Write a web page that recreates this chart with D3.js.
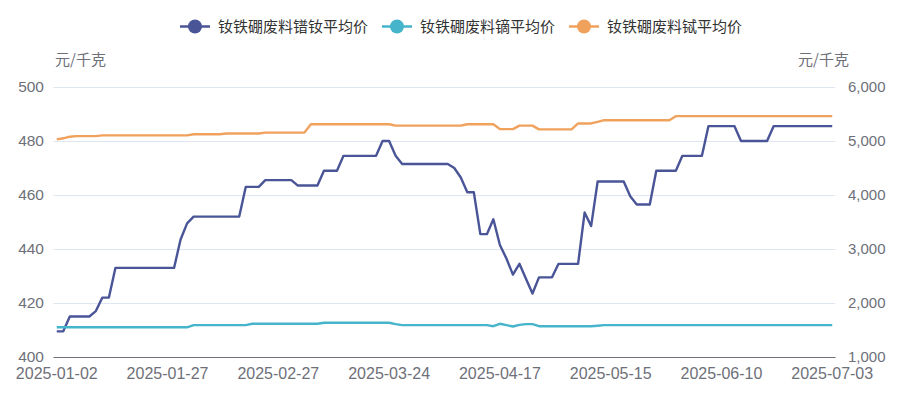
<!DOCTYPE html>
<html>
<head>
<meta charset="utf-8">
<script src="https://cdn.jsdelivr.net/npm/d3@7/dist/d3.min.js"></script>
<style>
  html, body { margin: 0; padding: 0; background: #ffffff; }
  svg { display: block; }
  text { font-family: "Noto Sans CJK SC", "Noto Sans", sans-serif; }
  .num text { font-family: "Liberation Sans", Arial, sans-serif; }
</style>
</head>
<body>
<svg id="chart" width="922" height="396"></svg>
<script>
// ---- data ----
const dates = [
  "2025-01-02","2025-01-03","2025-01-06","2025-01-07","2025-01-08","2025-01-09","2025-01-10","2025-01-13","2025-01-14","2025-01-15",
  "2025-01-16","2025-01-17","2025-01-20","2025-01-21","2025-01-22","2025-01-23","2025-01-24","2025-01-27","2025-02-05","2025-02-06",
  "2025-02-07","2025-02-10","2025-02-11","2025-02-12","2025-02-13","2025-02-14","2025-02-17","2025-02-18","2025-02-19","2025-02-20",
  "2025-02-21","2025-02-24","2025-02-25","2025-02-26","2025-02-27","2025-02-28","2025-03-03","2025-03-04","2025-03-05","2025-03-06",
  "2025-03-07","2025-03-10","2025-03-11","2025-03-12","2025-03-13","2025-03-14","2025-03-17","2025-03-18","2025-03-19","2025-03-20",
  "2025-03-21","2025-03-24","2025-03-25","2025-03-26","2025-03-27","2025-03-28","2025-03-31","2025-04-01","2025-04-02","2025-04-03",
  "2025-04-07","2025-04-08","2025-04-09","2025-04-10","2025-04-11","2025-04-14","2025-04-15","2025-04-16","2025-04-17","2025-04-18",
  "2025-04-21","2025-04-22","2025-04-23","2025-04-24","2025-04-25","2025-04-28","2025-04-29","2025-04-30","2025-05-06","2025-05-07",
  "2025-05-08","2025-05-09","2025-05-12","2025-05-13","2025-05-14","2025-05-15","2025-05-16","2025-05-19","2025-05-20","2025-05-21",
  "2025-05-22","2025-05-23","2025-05-26","2025-05-27","2025-05-28","2025-05-29","2025-05-30","2025-06-03","2025-06-04","2025-06-05",
  "2025-06-06","2025-06-09","2025-06-10","2025-06-11","2025-06-12","2025-06-13","2025-06-16","2025-06-17","2025-06-18","2025-06-19",
  "2025-06-20","2025-06-23","2025-06-24","2025-06-25","2025-06-26","2025-06-27","2025-06-30","2025-07-01","2025-07-02","2025-07-03"
];
const xTickLabels = ["2025-01-02","2025-01-27","2025-02-27","2025-03-24","2025-04-17","2025-05-15","2025-06-10","2025-07-03"];

// left axis: 钕铁硼废料镨钕平均价
const prndValues = [
  409.5,409.5,415,415,415,415,417,422,422,433,
  433,433,433,433,433,433,433,433,433,443.5,
  449.5,452,452,452,452,452,452,452,452,463,
  463,463,465.5,465.5,465.5,465.5,465.5,463.5,463.5,463.5,
  463.5,469,469,469,474.5,474.5,474.5,474.5,474.5,474.5,
  480,480,474.5,471.5,471.5,471.5,471.5,471.5,471.5,471.5,
  471.5,470,466.5,461,461,445.5,445.5,451,441.5,436.5,
  430.5,434.5,429,423.5,429.5,429.5,429.5,434.5,434.5,434.5,
  434.5,453.5,448.5,465,465,465,465,465,459.5,456.5,
  456.5,456.5,469,469,469,469,474.5,474.5,474.5,474.5,
  485.5,485.5,485.5,485.5,485.5,480,480,480,480,480,
  485.5,485.5,485.5,485.5,485.5,485.5,485.5,485.5,485.5,485.5
];
// right axis: 钕铁硼废料镝平均价
const dyValues = [
  1550,1550,1550,1550,1550,1550,1550,1550,1550,1550,
  1550,1550,1550,1550,1550,1550,1550,1550,1550,1550,
  1550,1590,1590,1590,1590,1590,1590,1590,1590,1590,
  1615,1615,1615,1615,1615,1615,1615,1615,1615,1615,
  1615,1635,1635,1635,1635,1635,1635,1635,1635,1635,
  1635,1635,1610,1590,1590,1590,1590,1590,1590,1590,
  1590,1590,1590,1590,1590,1590,1590,1570,1615,1590,
  1565,1595,1608,1608,1570,1570,1570,1570,1570,1570,
  1570,1570,1570,1580,1590,1590,1590,1590,1590,1590,
  1590,1590,1590,1590,1590,1590,1590,1590,1590,1590,
  1590,1590,1590,1590,1590,1590,1590,1590,1590,1590,
  1590,1590,1590,1590,1590,1590,1590,1590,1590,1590
];
// right axis: 钕铁硼废料铽平均价
const tbValues = [
  5030,5050,5080,5090,5090,5090,5090,5105,5105,5105,
  5105,5105,5105,5105,5105,5105,5105,5105,5105,5105,
  5105,5125,5125,5125,5125,5125,5140,5140,5140,5140,
  5140,5140,5155,5155,5155,5155,5155,5155,5155,5310,
  5310,5310,5310,5310,5310,5310,5310,5310,5310,5310,
  5310,5310,5285,5285,5285,5285,5285,5285,5285,5285,
  5285,5285,5285,5310,5310,5310,5310,5310,5220,5220,
  5220,5285,5285,5285,5215,5215,5215,5215,5215,5215,
  5325,5325,5325,5355,5385,5385,5385,5385,5385,5385,
  5385,5385,5385,5385,5385,5460,5460,5460,5460,5460,
  5460,5460,5460,5460,5460,5460,5460,5460,5460,5460,
  5460,5460,5460,5460,5460,5460,5460,5460,5460,5460
];

const seriesNames = ["钕铁硼废料镨钕平均价","钕铁硼废料镝平均价","钕铁硼废料铽平均价"];
const seriesColors = ["#4a5598","#46b4cb","#f0a15c"];
const leftTicks = [400,420,440,460,480,500];
const rightTicks = [1000,2000,3000,4000,5000,6000];
const unitLabel = "元/千克";

// ---- layout ----
const svg = d3.select("#chart");
const W = 922, H = 396;
const plot = {left: 53.5, right: 835.5, top: 87, bottom: 357};
const axisColor = "#6e7079";
const gridColor = "#e0e6f1";
const fs = 15;

const x = d3.scaleBand().domain(dates).range([plot.left, plot.right]);
const xc = d => x(d) + x.bandwidth() / 2;
const yL = d3.scaleLinear().domain([400, 500]).range([plot.bottom, plot.top]);
const yR = d3.scaleLinear().domain([1000, 6000]).range([plot.bottom, plot.top]);

// grid lines
const gGrid = svg.append("g").call(
  d3.axisLeft(yL).tickValues(leftTicks).tickSize(-(plot.right - plot.left)).tickFormat("")
).attr("transform", `translate(${plot.left},0)`);
gGrid.select(".domain").remove();
gGrid.selectAll(".tick line").attr("stroke", gridColor).attr("stroke-width", 1)
  .filter(d => d === 400).remove();

// left y labels
const gL = svg.append("g").attr("class", "num").attr("transform", `translate(${plot.left},0)`)
  .call(d3.axisLeft(yL).tickValues(leftTicks).tickSize(0).tickPadding(9.5).tickFormat(d3.format("d")));
gL.select(".domain").remove();
gL.selectAll("text").attr("fill", axisColor).style("font-size", "15.5px");

// right y labels
const gR = svg.append("g").attr("class", "num").attr("transform", `translate(${plot.right},0)`)
  .call(d3.axisRight(yR).tickValues(rightTicks).tickSize(0).tickPadding(12.5).tickFormat(d3.format(",")));
gR.select(".domain").remove();
gR.selectAll("text").attr("fill", axisColor).style("font-size", "15px");

// x axis
const gX = svg.append("g").attr("class", "num").attr("transform", `translate(0,${plot.bottom})`)
  .call(d3.axisBottom(x).tickValues(xTickLabels).tickSize(0).tickPadding(11));
gX.select(".domain").attr("stroke", axisColor).attr("stroke-width", 1.2)
  .attr("d", `M${plot.left},0.5H${plot.right}`);
gX.selectAll("text").attr("fill", axisColor).style("font-size", "16px");

// axis unit names
svg.append("text").attr("x", 55).attr("y", 60).attr("dy", "0.35em")
  .attr("fill", axisColor).style("font-size", fs + "px").text(unitLabel);
svg.append("text").attr("x", 849).attr("y", 60).attr("dy", "0.35em").attr("text-anchor", "end")
  .attr("fill", axisColor).style("font-size", fs + "px").text(unitLabel);

// lines
const lineL = d3.line().x((d, i) => xc(dates[i])).y(d => yL(d));
const lineR = d3.line().x((d, i) => xc(dates[i])).y(d => yR(d));
const allSeries = [
  {values: prndValues, gen: lineL, color: seriesColors[0]},
  {values: dyValues, gen: lineR, color: seriesColors[1]},
  {values: tbValues, gen: lineR, color: seriesColors[2]}
];
svg.append("g").selectAll("path").data(allSeries).join("path")
  .attr("d", s => s.gen(s.values))
  .attr("fill", "none")
  .attr("stroke", s => s.color)
  .attr("stroke-width", 2.4)
  .attr("stroke-linejoin", "round");

// legend
const legend = svg.append("g");
const itemW = 30, gapText = 8, itemGap = 14, legY = 26.5;
const items = legend.selectAll("g").data(seriesNames).join("g");
items.append("line").attr("x1", 0).attr("x2", itemW).attr("y1", legY).attr("y2", legY)
  .attr("stroke", (d, i) => seriesColors[i]).attr("stroke-width", 2.5);
items.append("circle").attr("cx", itemW / 2).attr("cy", legY).attr("r", 7)
  .attr("fill", (d, i) => seriesColors[i]);
items.append("text").attr("x", itemW + gapText).attr("y", legY).attr("dy", "0.35em")
  .attr("fill", "#333").style("font-size", fs + "px").text(d => d);
let widths = [];
items.each(function() { widths.push(this.getBBox().width); });
const total = d3.sum(widths) + itemGap * (widths.length - 1);
let cur = (W - total) / 2;
items.attr("transform", (d, i) => { const t = `translate(${cur},0)`; cur += widths[i] + itemGap; return t; });
</script>
</body>
</html>
